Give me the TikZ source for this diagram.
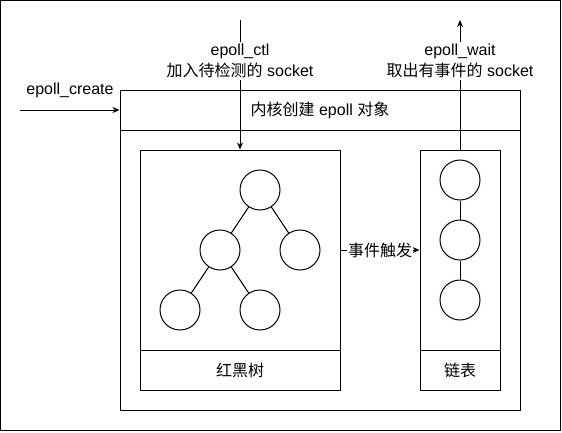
\documentclass[tikz,border=0pt]{standalone}
\usepackage{fontspec}
\setmainfont{Liberation Sans}
\newfontfamily\cjk{Noto Sans CJK SC}
\usetikzlibrary{arrows.meta}
\begin{document}
\begin{tikzpicture}[x=1pt,y=-1pt,
  font=\fontsize{16}{21}\selectfont,
  line width=1pt,
  boxnode/.style={draw, rectangle, inner sep=0pt},
  cnode/.style={draw, circle, minimum size=40pt, inner sep=0pt},
  arr/.style={-{Stealth[length=7pt,width=6pt]}},
  lbl/.style={fill=white, align=center, inner sep=2pt}]
\useasboundingbox (0,0) rectangle (562,432);
\draw (0.5,0.5) rectangle (560.5,430.5);
% main box
\node[boxnode, minimum width=400pt, minimum height=320pt] (main) at (320,250) {};
\node[boxnode, minimum width=400pt, minimum height=40pt] (header) at (320,110) {{\cjk 内核创建} epoll {\cjk 对象}};
% tree box
\node[boxnode, minimum width=200pt, minimum height=200pt] (tree) at (240,250) {};
\node[boxnode, minimum width=200pt, minimum height=40pt] (treelabel) at (240,370) {\cjk 红黑树};
% list box
\node[boxnode, minimum width=80pt, minimum height=200pt] (list) at (460,250) {};
\node[boxnode, minimum width=80pt, minimum height=40pt] (listlabel) at (460,370) {\cjk 链表};
% tree circles
\node[cnode] (t1) at (260,190) {};
\node[cnode] (t2) at (220,250) {};
\node[cnode] (t3) at (300,250) {};
\node[cnode] (t4) at (180,310) {};
\node[cnode] (t5) at (260,310) {};
\draw (t1) -- (t2);
\draw (t1) -- (t3);
\draw (t2) -- (t4);
\draw (t2) -- (t5);
% list circles
\node[cnode] (l1) at (460,180) {};
\node[cnode] (l2) at (460,240) {};
\node[cnode] (l3) at (460,300) {};
\draw (l1) -- (l2);
\draw (l2) -- (l3);
% event trigger
\draw[arr] (tree.east) -- node[lbl, inner sep=1pt] (evt) {\cjk 事件触发} (list.west);
% epoll_create
\coordinate (cstart) at (20,110);
\draw[arr] (cstart) -- (header.west);
\node (clabel) at (70,90) {epoll\_create};
% epoll_ctl
\coordinate (ctltop) at (240,20);
\draw[arr] (ctltop) -- (tree.north);
\node[lbl] (ctllabel) at (240,61) {epoll\_ctl\\{\cjk 加入待检测的} socket};
% epoll_wait
\coordinate (waittop) at (460,20);
\draw[arr] (list.north) -- (waittop);
\node[lbl] (waitlabel) at (460,61) {epoll\_wait\\{\cjk 取出有事件的} socket};
\end{tikzpicture}
\end{document}
